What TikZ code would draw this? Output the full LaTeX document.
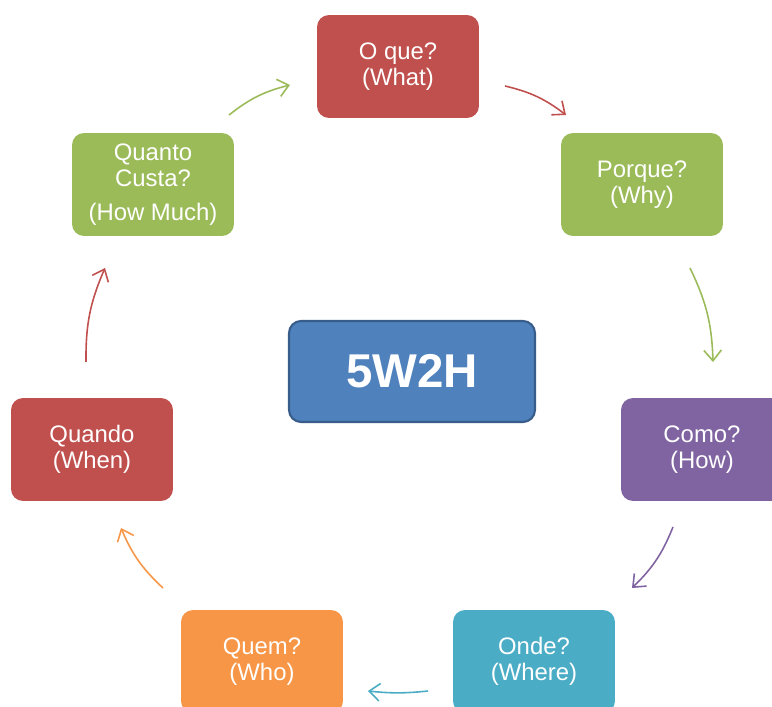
\documentclass[tikz,border=0pt]{standalone}
\usepackage{fontspec}
\setmainfont{Liberation Sans}
\usetikzlibrary{arrows.meta}

\definecolor{vermelho}{HTML}{C0504D}
\definecolor{verde}{HTML}{9BBB59}
\definecolor{roxo}{HTML}{8064A2}
\definecolor{ciano}{HTML}{4BACC6}
\definecolor{laranja}{HTML}{F79646}
\definecolor{azul}{HTML}{4F81BD}
\definecolor{azulborda}{HTML}{385D8A}

\begin{document}
\begin{tikzpicture}[x=0.02cm,y=0.02cm,
  etapa/.style={rectangle,rounded corners=0.24cm,minimum width=3.24cm,minimum height=2.06cm,inner sep=0pt,text=white,align=center,font=\fontsize{13.6}{14.7}\selectfont},
  seta/.style={line width=0.9pt,-{Straight Barb[length=6pt,width=10pt]}}]
\useasboundingbox (0,0) rectangle (772,707);
% caixas
\node[etapa,fill=vermelho] (oque) at (398,640.5) {O que?\\(What)};
\node[etapa,fill=verde] (porque) at (642,522.5) {Porque?\\(Why)};
\node[etapa,fill=roxo] (como) at (702,257.5) {Como?\\(How)};
\node[etapa,fill=ciano] (onde) at (534,45.5) {Onde?\\(Where)};
\node[etapa,fill=laranja] (quem) at (262,45.5) {Quem?\\(Who)};
\node[etapa,fill=vermelho] (quando) at (92,257.5) {Quando\\(When)};
\node[etapa,fill=verde] (quanto) at (153,522.5) {Quanto\\Custa?\\[4.5pt](How Much)};
\node[rectangle,rounded corners=0.24cm,minimum width=4.92cm,minimum height=2.02cm,fill=azul,draw=azulborda,line width=1.2pt,text=white,font=\fontsize{27}{32}\selectfont\bfseries] (centro) at (412,335.5) {5W2H};
% setas
\coordinate (s1a) at (229,592); \coordinate (s1b) at (290,622);
\coordinate (s2a) at (505,621); \coordinate (s2b) at (566,592);
\coordinate (s3a) at (690,439); \coordinate (s3b) at (713,345);
\coordinate (s4a) at (673,180); \coordinate (s4b) at (632,119);
\coordinate (s5a) at (428,16);  \coordinate (s5b) at (368,16);
\coordinate (s6a) at (163,119); \coordinate (s6b) at (121,179);
\coordinate (s7a) at (86,345);  \coordinate (s7b) at (105,439);
\draw[seta,verde] (s1a) to[bend left=12] (s1b);
\draw[seta,vermelho] (s2a) to[bend left=12] (s2b);
\draw[seta,verde] (s3a) to[bend left=12] (s3b);
\draw[seta,roxo] (s4a) to[bend left=12] (s4b);
\draw[seta,ciano] (s5a) to[bend left=6] (s5b);
\draw[seta,laranja] (s6a) to[bend left=12] (s6b);
\draw[seta,vermelho] (s7a) to[bend left=12] (s7b);
\end{tikzpicture}
\end{document}
